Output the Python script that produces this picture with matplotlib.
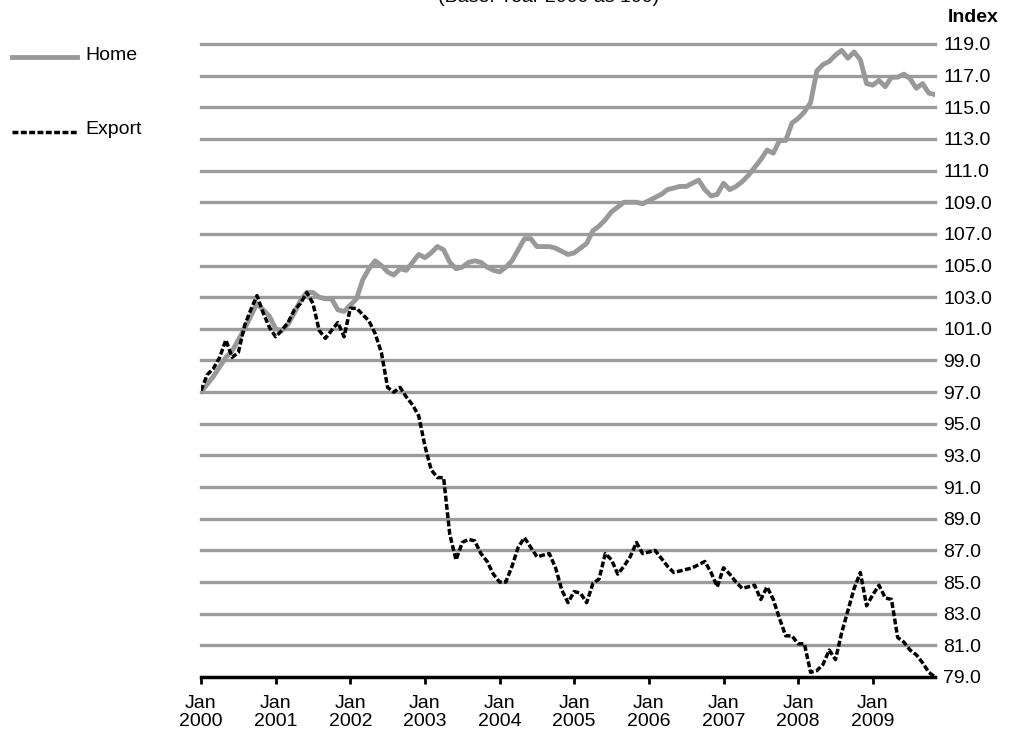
import matplotlib
matplotlib.use("Agg")
import matplotlib.pyplot as plt
from matplotlib.lines import Line2D
import numpy as np

plt.rcParams['font.family'] = ['Liberation Sans', 'DejaVu Sans']

# Monthly data, Jan 2000 .. Nov 2009
home = [97.0, 97.5, 98.0, 98.6, 99.2, 99.6, 100.3, 101.0, 101.8, 102.6,
        102.2, 101.8, 101.0, 100.9, 101.3, 102.0, 102.8, 103.3, 103.3, 103.0,
        102.9, 102.9, 102.2, 102.1, 102.5, 102.9, 104.1, 104.8, 105.3, 105.0,
        104.6, 104.4, 104.8, 104.7, 105.2, 105.7, 105.5, 105.8, 106.2, 106.0,
        105.2, 104.8, 104.9, 105.2, 105.3, 105.2, 104.9, 104.7, 104.6, 104.9,
        105.3, 106.0, 106.7, 106.7, 106.2, 106.2, 106.2, 106.1, 105.9, 105.7,
        105.8, 106.1, 106.4, 107.2, 107.5, 107.9, 108.4, 108.7, 109.0, 109.0,
        109.0, 108.9, 109.1, 109.3, 109.5, 109.8, 109.9, 110.0, 110.0, 110.2,
        110.4, 109.8, 109.4, 109.5, 110.2, 109.8, 110.0, 110.3, 110.7, 111.2,
        111.7, 112.3, 112.1, 112.9, 112.9, 114.0, 114.3, 114.7, 115.3, 117.3,
        117.7, 117.9, 118.3, 118.6, 118.1, 118.5, 118.0, 116.5, 116.4, 116.7,
        116.3, 116.9, 116.9, 117.1, 116.8, 116.2, 116.5, 115.9, 115.8]

export = [97.1, 98.1, 98.5, 99.2, 100.3, 99.2, 99.5, 101.2, 102.2, 103.1,
          102.0, 101.1, 100.5, 100.9, 101.4, 102.2, 102.6, 103.3, 102.6, 100.9,
          100.4, 100.9, 101.4, 100.5, 102.3, 102.3, 101.9, 101.5, 100.7, 99.5,
          97.3, 97.0, 97.3, 96.7, 96.2, 95.5, 93.6, 92.1, 91.6, 91.6,
          88.0, 86.4, 87.5, 87.7, 87.6, 86.8, 86.3, 85.5, 85.0, 85.0,
          86.0, 87.2, 87.8, 87.2, 86.6, 86.7, 86.8, 85.9, 84.5, 83.7,
          84.4, 84.3, 83.7, 84.9, 85.2, 86.8, 86.4, 85.5, 86.0, 86.6,
          87.5, 86.8, 86.9, 87.0, 86.5, 86.0, 85.6, 85.7, 85.8, 85.9,
          86.1, 86.3, 85.6, 84.7, 85.9, 85.5, 85.0, 84.6, 84.7, 84.8,
          83.9, 84.7, 83.9, 82.7, 81.6, 81.6, 81.1, 81.1, 79.3, 79.4,
          79.8, 80.7, 80.1, 81.8, 83.2, 84.6, 85.6, 83.5, 84.2, 84.8,
          84.0, 83.9, 81.5, 81.2, 80.7, 80.4, 79.9, 79.3, 79.0]

years = [str(y) for y in range(2000, 2010)]
x_labels = ["Jan\n" + y for y in years]
y_ticks = list(range(79, 120, 2))

months = np.arange(len(home))

FS = 14

fig = plt.figure(figsize=(10.12, 7.47), dpi=100)
ax = fig.add_axes([201/1012, 1 - 677/747, (935-201)/1012, (677-44)/747])

grid_col = '#9c9c9c'
for v in y_ticks[1:]:
    ax.axhline(v, color=grid_col, lw=2.4, zorder=1, clip_on=False)

home_col = '#999999'
ax.plot(months, home, color=home_col, lw=3.5, zorder=3,
        solid_joinstyle='round', solid_capstyle='round')
ax.plot(months, export, color='black', lw=2.5, zorder=4, dashes=(1.7, 0.7))

ax.set_xlim(0, 118)
ax.set_ylim(79, 119)

for s in ['top', 'left', 'right']:
    ax.spines[s].set_visible(False)
ax.spines['bottom'].set_linewidth(2.5)
ax.spines['bottom'].set_color('black')
ax.spines['bottom'].set_zorder(5)

ax.set_xticks(np.arange(0, 120, 12))
ax.set_xticklabels(x_labels, fontsize=FS, linespacing=1.1)
ax.tick_params(axis='x', direction='out', length=5, width=2, color='black', pad=8)

ax.yaxis.tick_right()
ax.set_yticks(y_ticks)
ax.set_yticklabels([f"{v:.1f}" for v in y_ticks], fontsize=FS)
ax.tick_params(axis='y', length=0, pad=6)

fig.text(0.962, 0.976, "Index", fontsize=FS, fontweight='bold', ha='center', va='center')
fig.text(0.542, 1.003, "(Base: Year 2000 as 100)", fontsize=FS, ha='center', va='center')

# legend
fig.add_artist(Line2D([12/1012, 77/1012], [1-57/747, 1-57/747], color=home_col, lw=3.5))
fig.text(85/1012, 1-55/747, "Home", fontsize=FS, va='center', ha='left')
fig.add_artist(Line2D([12/1012, 77/1012], [1-132/747, 1-132/747], color='black',
                      lw=2.5, dashes=(1.7, 0.7)))
fig.text(85/1012, 1-130/747, "Export", fontsize=FS, va='center', ha='left')

fig.savefig("out.png", dpi=100)
